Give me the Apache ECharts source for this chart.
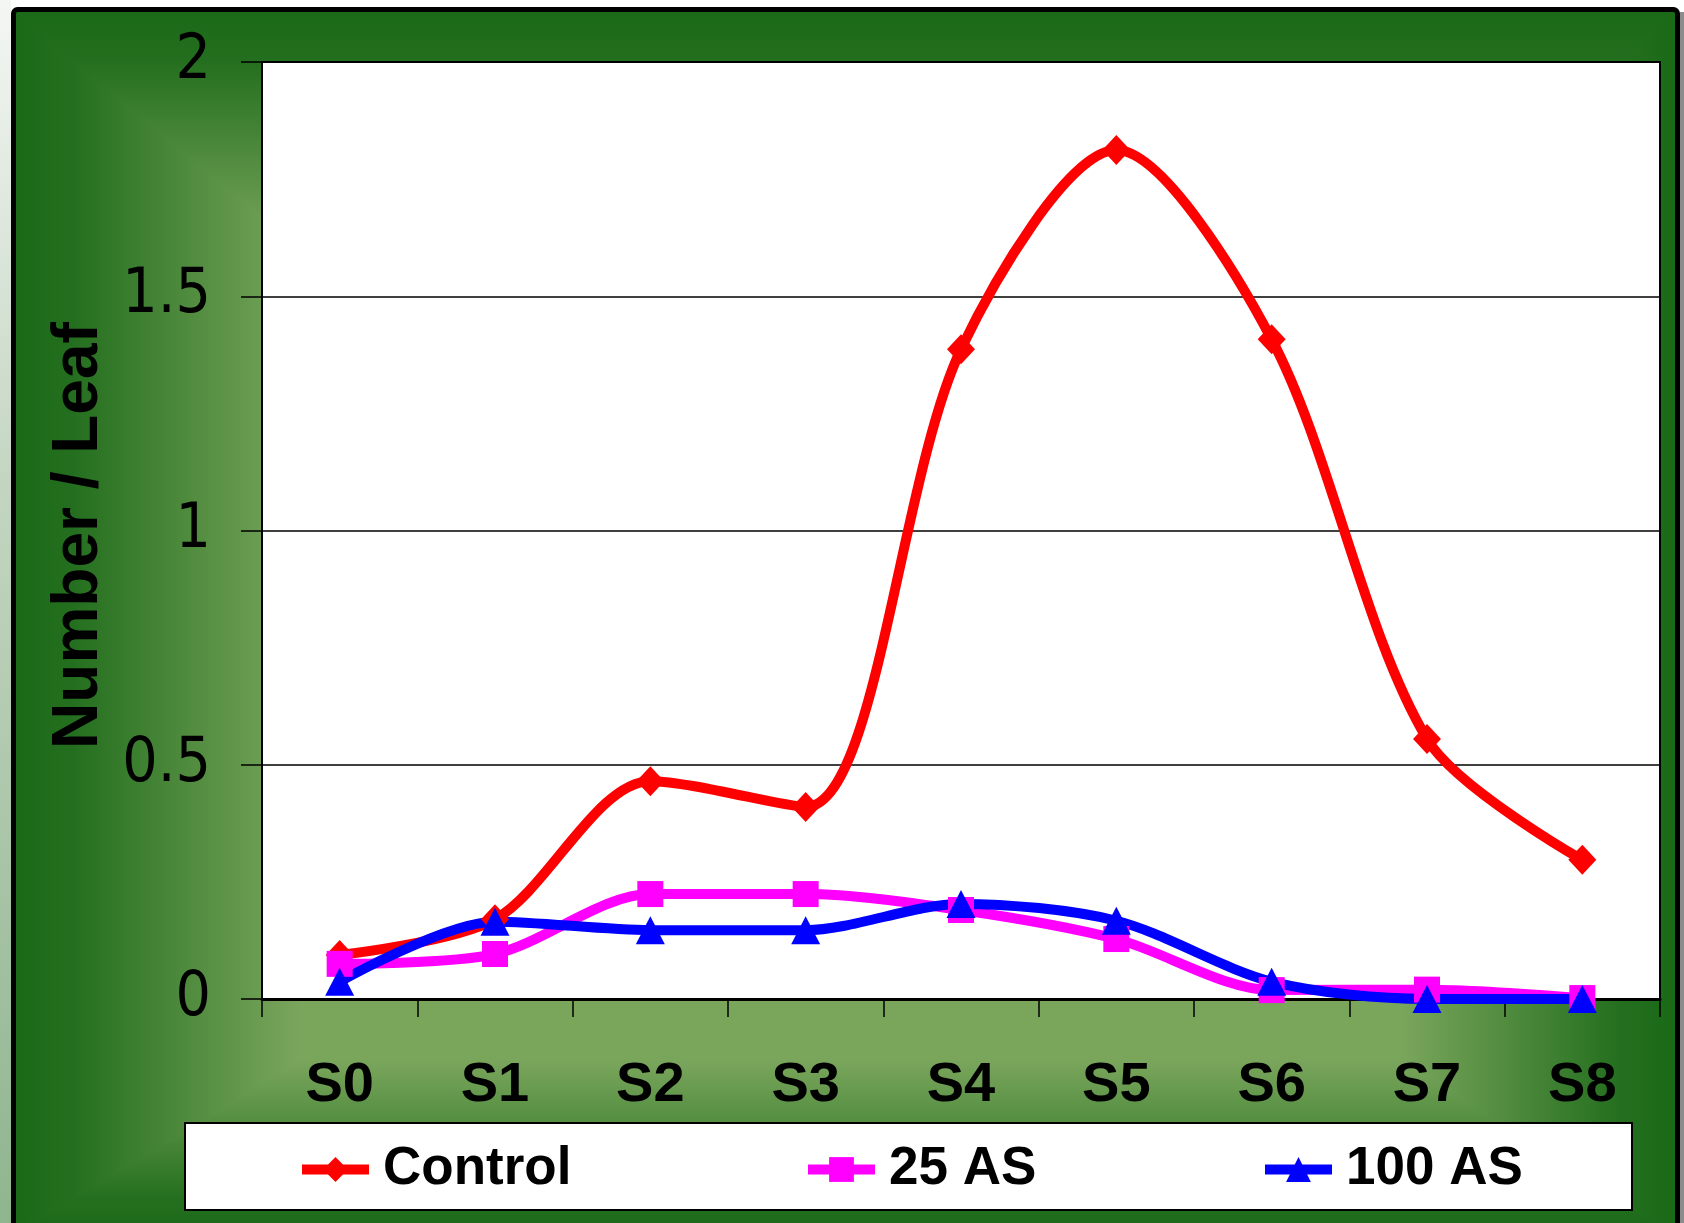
<!DOCTYPE html>
<html>
<head>
<meta charset="utf-8">
<script src="https://cdn.jsdelivr.net/npm/echarts@6/dist/echarts.min.js"></script>
<style>
  html, body { margin: 0; padding: 0; background: #ffffff; }
  #chart { width: 1684px; height: 1223px; }
</style>
</head>
<body>
<div id="chart"></div>
<script>
// Leaf stage categories
const stages = ['S0', 'S1', 'S2', 'S3', 'S4', 'S5', 'S6', 'S7', 'S8'];

// Number per leaf for each treatment
const controlValues = [0.094, 0.17, 0.465, 0.41, 1.387, 1.812, 1.408, 0.555, 0.297];
const as25Values    = [0.075, 0.096, 0.224, 0.224, 0.19, 0.128, 0.019, 0.02, 0.002];
const as100Values   = [0.037, 0.165, 0.147, 0.147, 0.203, 0.167, 0.037, 0.0, 0.0];

// Value axis range
const yMin = 0;
const yMax = 2;
const yStep = 0.5;

const BOLD_FONT = '"Liberation Sans", Arial, Helvetica, sans-serif';
const NARROW_FONT = '"Liberation Sans Narrow", "Arial Narrow", "DejaVu Sans Condensed", sans-serif';
const LINE_W = 10;

// Green panel: dark at the frame edges, lightening toward the middle
const FX0 = 16, FX1 = 1675, FY0 = 13, FY1 = 1234;
const CX0 = 300, CX1 = 1400, CY0 = 250, CY1 = 1060;
const DARK = '#1a6a18';
const LIGHT = '#7aa65c';
function ramp(x, y, x2, y2) {
  return {
    type: 'linear', x: x, y: y, x2: x2, y2: y2, global: true,
    colorStops: [
      { offset: 0, color: DARK },
      { offset: 0.2, color: '#246f1f' },
      { offset: 1, color: LIGHT }
    ]
  };
}
function panelPiece(points, fill) {
  return {
    type: 'polygon', z: -20, silent: true,
    shape: { points: points },
    style: { fill: fill, stroke: fill, lineWidth: 2 }
  };
}

const chart = echarts.init(document.getElementById('chart'), null, { renderer: 'canvas' });

const legendBase = {
  orient: 'horizontal',
  padding: 0,
  itemWidth: 67,
  itemHeight: 31,
  selectedMode: false,
  top: 1143,
  lineStyle: { width: LINE_W },
  textStyle: {
    fontSize: 53,
    fontWeight: 'bold',
    fontFamily: BOLD_FONT,
    color: '#000',
    padding: [0, 0, 0, 9]
  }
};

const option = {
  animation: false,
  backgroundColor: '#ffffff',
  graphic: [
    // thin strip left of the frame
    {
      type: 'rect', z: -30, silent: true,
      shape: { x: 0, y: 0, width: 11, height: 1223 },
      style: {
        fill: {
          type: 'linear', x: 0, y: 0, x2: 0, y2: 1223, global: true,
          colorStops: [
            { offset: 0, color: '#f4f6f4' },
            { offset: 0.4, color: '#c3d5c1' },
            { offset: 1, color: '#8fb58e' }
          ]
        }
      }
    },
    // drop shadow on the right of the frame
    {
      type: 'rect', z: -30, silent: true,
      shape: { x: 1680, y: 12, width: 4, height: 1211 },
      style: { fill: '#8c8c8c' }
    },
    {
      type: 'rect', z: -25, silent: true,
      shape: { x: FX0, y: FY0, width: FX1 - FX0, height: FY1 - FY0 },
      style: { fill: DARK }
    },
    {
      type: 'rect', z: -21, silent: true,
      shape: { x: CX0 - 1, y: CY0 - 1, width: CX1 - CX0 + 2, height: CY1 - CY0 + 2 },
      style: { fill: LIGHT }
    },
    panelPiece([[FX0, FY0], [FX1, FY0], [CX1, CY0], [CX0, CY0]], ramp(0, FY0, 0, CY0)),
    panelPiece([[FX0, FY1], [FX1, FY1], [CX1, CY1], [CX0, CY1]], ramp(0, FY1, 0, CY1)),
    panelPiece([[FX0, FY0], [CX0, CY0], [CX0, CY1], [FX0, FY1]], ramp(FX0, 0, CX0, 0)),
    panelPiece([[FX1, FY0], [CX1, CY0], [CX1, CY1], [FX1, FY1]], ramp(FX1, 0, CX1, 0)),
    // black frame
    {
      type: 'rect', z: -15, silent: true,
      shape: { x: 13.5, y: 9.5, width: 1664, height: 1232, r: 4 },
      style: { fill: null, stroke: '#000', lineWidth: 5 }
    },
    // legend box
    {
      type: 'rect', z: -10, silent: true,
      shape: { x: 185, y: 1123, width: 1447, height: 87 },
      style: { fill: '#ffffff', stroke: '#000', lineWidth: 2 }
    }
  ],
  grid: {
    left: 262, top: 62, width: 1398, height: 937,
    show: true,
    backgroundColor: '#ffffff',
    borderColor: '#000',
    borderWidth: 2,
    containLabel: false
  },
  legend: [
    Object.assign({}, legendBase, { left: 297, data: ['Control'] }),
    Object.assign({}, legendBase, { left: 803, data: ['25 AS'] }),
    Object.assign({}, legendBase, { left: 1260, data: ['100 AS'] })
  ],
  xAxis: {
    type: 'category',
    data: stages,
    boundaryGap: true,
    axisLine: { show: true, lineStyle: { color: '#000', width: 3 } },
    axisTick: { show: true, length: 18, interval: 0, alignWithLabel: false, lineStyle: { color: '#000', width: 1.5 } },
    axisLabel: {
      interval: 0, margin: 59,
      fontSize: 56, fontWeight: 'bold', fontFamily: BOLD_FONT, color: '#000'
    },
    splitLine: { show: false }
  },
  yAxis: {
    type: 'value',
    min: yMin, max: yMax, interval: yStep,
    axisLine: { show: true, lineStyle: { color: '#000', width: 2 } },
    axisTick: { show: true, inside: false, length: 21, lineStyle: { color: '#000', width: 1.5 } },
    axisLabel: { margin: 51, fontSize: 62, fontFamily: NARROW_FONT, color: '#000' },
    splitLine: { show: true, lineStyle: { color: '#000', width: 1.5 } },
    name: 'Number / Leaf',
    nameLocation: 'middle',
    nameRotate: 90,
    nameGap: 146,
    nameTextStyle: {
      fontSize: 64, fontWeight: 'bold', fontFamily: BOLD_FONT, color: '#000',
      padding: [0, 10, 0, 0]
    }
  },
  series: [
    {
      name: 'Control', type: 'line', data: controlValues,
      smooth: 0.3, clip: false,
      symbol: 'diamond', symbolSize: [28, 30],
      lineStyle: { color: '#ff0000', width: LINE_W },
      itemStyle: { color: '#ff0000' }
    },
    {
      name: '25 AS', type: 'line', data: as25Values,
      smooth: 0.3, clip: false,
      symbol: 'rect', symbolSize: [26, 26],
      lineStyle: { color: '#ff00ff', width: LINE_W },
      itemStyle: { color: '#ff00ff' }
    },
    {
      name: '100 AS', type: 'line', data: as100Values,
      smooth: 0.3, clip: false,
      symbol: 'triangle', symbolSize: [29, 28],
      lineStyle: { color: '#0000ff', width: LINE_W },
      itemStyle: { color: '#0000ff' }
    }
  ]
};

chart.setOption(option);
</script>
</body>
</html>
